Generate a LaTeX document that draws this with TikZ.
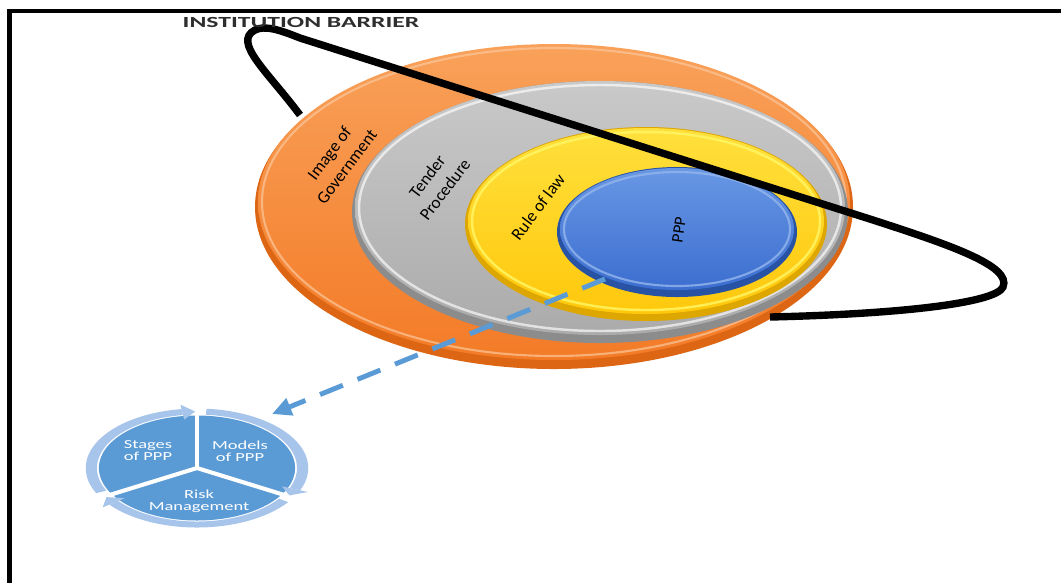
\documentclass[tikz,border=0pt]{standalone}
\usepackage{fontspec}
\setmainfont{Carlito}
\usetikzlibrary{arrows.meta}

\definecolor{orLight}{HTML}{F9A15A}
\definecolor{orMain}{HTML}{F37B27}
\definecolor{orDark}{HTML}{DC6614}
\definecolor{grLight}{HTML}{C9C9C9}
\definecolor{grMain}{HTML}{ABABAB}
\definecolor{grDark}{HTML}{8C8C8C}
\definecolor{yeLight}{HTML}{FFE03C}
\definecolor{yeMain}{HTML}{FFC80C}
\definecolor{yeDark}{HTML}{DDA600}
\definecolor{blLight}{HTML}{6897E4}
\definecolor{blMain}{HTML}{3C6ED0}
\definecolor{blDark}{HTML}{2852A4}
\definecolor{cycBlue}{HTML}{5B9BD5}
\definecolor{cycRing}{HTML}{A7C4EA}
\definecolor{linkBlue}{HTML}{5B9BD5}
\definecolor{titleGray}{HTML}{2E2E2E}

% annular ring segment of the cycle with its arrowhead at the end
\newcommand{\cycseg}[2]{%
  \fill[cycRing] (#1:53.5) arc[start angle=#1, end angle=#2-8, radius=53.5]
    -- (#2-8:59.5) arc[start angle=#2-8, end angle=#1, radius=59.5] -- cycle;
  \fill[cycRing] (#2-8:49) -- (#2-1:56.5) -- (#2-8:64) -- cycle;
}

\begin{document}
\begin{tikzpicture}[x=0.02cm, y=-0.02cm,
  ringlabel/.style={font=\fontsize{9.8}{12.5}\selectfont, text=black, align=center,
    inner sep=0pt, rotate=53},
  cyclabel/.style={font=\fontsize{7}{6.8}\selectfont, text=white, align=center,
    inner sep=0pt, xscale=1.5},
  titlelabel/.style={font=\fontsize{8.8}{10}\selectfont\bfseries, text=titleGray,
    inner sep=0pt, xscale=1.66},
  barrier/.style={line width=4.2pt, black},
  linkline/.style={linkBlue, line width=2.8pt, dash pattern=on 14pt off 9pt,
    -{Triangle[length=11pt, width=10pt]}},
  frameline/.style={line width=2.6pt, black}]

\useasboundingbox (0,0) rectangle (1061,583);

% page frame: top and left rules only
\draw[frameline] (1061,11) -- (9.5,11) -- (9.5,583);

% --- outer disc: Image of Government
\fill[orDark] (554,207) ellipse[x radius=299, y radius=162];
\shade[top color=orLight, bottom color=orMain] (554,202) ellipse[x radius=296, y radius=158];
\draw[orLight!60!white, line width=1.2pt, opacity=0.7] (554,202) ellipse[x radius=292, y radius=154];

% --- disc: Tender Procedure
\fill[grDark] (600,212) ellipse[x radius=248, y radius=131];
\shade[top color=grLight, bottom color=grMain] (600,208) ellipse[x radius=245, y radius=127];
\draw[white, line width=1.4pt, opacity=0.65] (600,208) ellipse[x radius=241, y radius=123];

% --- disc: Rule of law
\fill[yeDark] (646,224) ellipse[x radius=181, y radius=97];
\shade[top color=yeLight, bottom color=yeMain] (646,221) ellipse[x radius=178, y radius=93];
\draw[yellow!60!white, line width=1.4pt, opacity=0.8] (646,221) ellipse[x radius=174, y radius=89];

% --- core disc: PPP
\fill[blDark] (677,232) ellipse[x radius=120, y radius=65];
\shade[top color=blLight, bottom color=blMain] (677,229) ellipse[x radius=117, y radius=61];
\draw[blLight!70!white, line width=1.2pt, opacity=0.8] (677,229) ellipse[x radius=113, y radius=57];

% disc labels
\begin{scope}[shift={(338,160)}]
  \node[ringlabel] (gov) {Image of\\Government};
\end{scope}
\begin{scope}[shift={(436,183)}]
  \node[ringlabel] (tender) {Tender\\Procedure};
\end{scope}
\begin{scope}[shift={(538,207)}]
  \node[ringlabel] (law) {Rule of law};
\end{scope}
\begin{scope}[shift={(679,230)}]
  \node[ringlabel, rotate=29, font=\fontsize{9.4}{11}\selectfont] (ppp) {PPP};
\end{scope}

% institutional barrier loop
\draw[barrier] (300,115) .. controls (268,72) and (232,42) .. (255,30)
  .. controls (265,25) and (280,30) .. (300,38) -- (873,220)
  .. controls (950,245) and (1012,266) .. (1003,287)
  .. controls (996,303) and (900,314) .. (770,317);
\node[titlelabel] (barriertitle) at (301,22) {INSTITUTION BARRIER};

% --- cycle of PPP aspects
\begin{scope}[shift={(197,468)}, xscale=1.87]
  \fill[cycBlue] (0,0) circle[radius=52.5];
  \draw[white, line width=2.3pt] (0,0) -- (-90:60);
  \draw[white, line width=2.3pt] (0,0) -- (30:60);
  \draw[white, line width=2.3pt] (0,0) -- (150:60);
  \cycseg{155}{270}
  \cycseg{275}{390}
  \cycseg{35}{150}
\end{scope}
\node[cyclabel] (stages) at (148,451) {Stages\\of PPP};
\node[cyclabel] (models) at (240,451) {Models\\of PPP};
\node[cyclabel] (risk) at (199,501) {Risk\\Management};

% link from the PPP core to the cycle
\coordinate (pppedge) at (605,279);
\coordinate (cycletip) at (272,414);
\draw[linkline] (pppedge) -- (cycletip);

\end{tikzpicture}
\end{document}
